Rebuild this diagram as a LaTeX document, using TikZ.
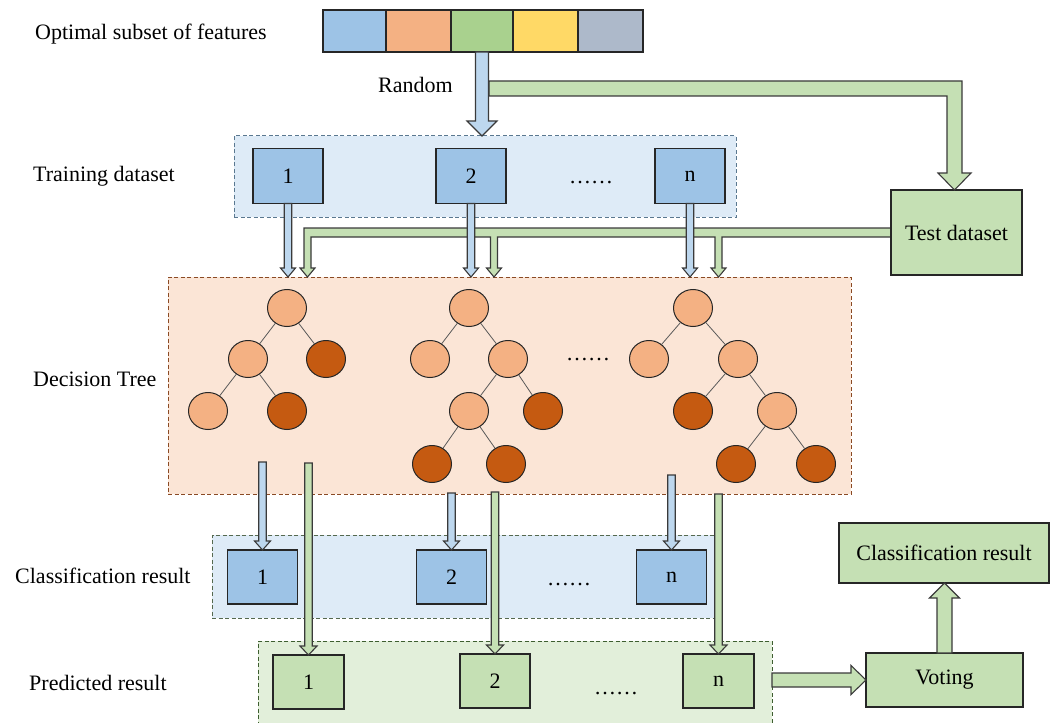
\documentclass[tikz,border=0pt]{standalone}
\usepackage{fontspec}
\setmainfont{Liberation Serif}
\usetikzlibrary{shapes.geometric,calc}
\definecolor{fblue}{HTML}{9DC3E6}
\definecolor{forange}{HTML}{F4B183}
\definecolor{fgreen}{HTML}{A9D18E}
\definecolor{fyellow}{HTML}{FFD966}
\definecolor{fgray}{HTML}{ADB9CA}
\definecolor{regblue}{HTML}{DEEBF7}
\definecolor{regorange}{HTML}{FBE5D6}
\definecolor{reggreen}{HTML}{E2EFDA}
\definecolor{boxgreen}{HTML}{C5E0B4}
\definecolor{arrblue}{HTML}{BDD7EE}
\definecolor{arrgreen}{HTML}{C5E0B4}
\definecolor{darkleaf}{HTML}{C55A11}
\definecolor{boxline}{HTML}{262626}
\definecolor{arrline}{HTML}{3A3A3A}
\definecolor{edgegray}{HTML}{595959}
\definecolor{bordblue}{HTML}{5A7890}
\definecolor{bordbrown}{HTML}{8B4A24}
\definecolor{bordcls}{HTML}{55694F}
\definecolor{bordgreen}{HTML}{3E5E30}
\newcommand\vblock[6]{\filldraw[#1] let \p1=(#2), \p2=(#3), \n1={sign(\y1-\y2)} in
  (\x1-#4/2,\y1) -- (\x1-#4/2,\y2+\n1*#6) -- (\x1-#5/2,\y2+\n1*#6) -- (\x1,\y2)
  -- (\x1+#5/2,\y2+\n1*#6) -- (\x1+#4/2,\y2+\n1*#6) -- (\x1+#4/2,\y1) -- cycle;}
\newcommand\hblock[6]{\filldraw[#1] let \p1=(#2), \p2=(#3) in
  (\x1,\y2-#4/2) -- (\x2-#6,\y2-#4/2) -- (\x2-#6,\y2-#5/2) -- (\x2,\y2)
  -- (\x2-#6,\y2+#5/2) -- (\x2-#6,\y2+#4/2) -- (\x1,\y2+#4/2) -- cycle;}
\begin{document}
\begin{tikzpicture}[x=1pt,y=-1pt,
  every node/.style={font=\fontsize{22}{26}\selectfont},
  lbl/.style={anchor=base west, inner sep=0},
  region/.style={dash pattern=on 4pt off 2.5pt, line width=1pt, inner sep=0, outer sep=0},
  sbox/.style={draw=boxline, line width=1.2pt, minimum width=70pt, minimum height=55pt, inner sep=0, outer sep=0},
  bluebox/.style={sbox, fill=fblue},
  greenbox/.style={sbox, fill=boxgreen},
  cell/.style={draw=boxline, line width=1.2pt, minimum height=42pt, inner sep=0, outer sep=0},
  leaf/.style={ellipse, draw=black!85, line width=1pt, minimum width=39pt, minimum height=37pt, inner sep=0},
  lt/.style={leaf, fill=forange},
  dk/.style={leaf, fill=darkleaf},
  edge/.style={draw=edgegray, line width=0.8pt},
  barrow/.style={draw=arrline, line width=1.1pt, fill=arrblue},
  garrow/.style={draw=arrline, line width=1.1pt, fill=arrgreen},
  dots/.style={anchor=base, inner sep=0}
]
\useasboundingbox (0,0) rectangle (1056,722);
\clip (0,0) rectangle (1056,722);

% regions
\node[region, draw=bordblue, fill=regblue, minimum width=502pt, minimum height=81pt] (trreg) at (485,176.5) {};
\node[region, draw=bordbrown, fill=regorange, minimum width=683pt, minimum height=217pt] (treereg) at (509.5,385.5) {};
\node[region, draw=bordcls, fill=regblue, minimum width=502pt, minimum height=83pt] (clsreg) at (463,576.5) {};
\node[region, draw=bordgreen, fill=reggreen, minimum width=514pt, minimum height=94pt] (predreg) at (515,688) {};

% labels
\node[lbl] (lopt) at (35,40) {Optimal subset of features};
\node[lbl] (lrand) at (378,93) {Random};
\node[lbl] (ltrain) at (33,181) {Training dataset};
\node[lbl] (ltree) at (33,386) {Decision Tree};
\node[lbl] (lcls) at (15,583) {Classification result};
\node[lbl] (lpred) at (29,690) {Predicted result};

% feature bar
\node[cell, fill=fblue, minimum width=63pt] (f1) at (354.5,31) {};
\node[cell, fill=forange, minimum width=65pt] (f2) at (418.5,31) {};
\node[cell, fill=fgreen, minimum width=62pt] (f3) at (482,31) {};
\node[cell, fill=fyellow, minimum width=65pt] (f4) at (545.5,31) {};
\node[cell, fill=fgray, minimum width=65pt] (f5) at (610.5,31) {};

% training boxes
\node[bluebox] (tr1) at (288,176) {1};
\node[bluebox] (tr2) at (471,176) {2};
\node[bluebox] (trn) at (690,176) {n};
\node[dots] (trdots) at (591,183) {……};

% test dataset
\node[greenbox, minimum width=131pt, minimum height=85pt] (test) at (956.5,232.5) {Test dataset};

% trees
\node[lt] (a0) at (287,308) {};
\node[lt] (a1) at (248,359) {};
\node[dk] (a2) at (326,359) {};
\node[lt] (a3) at (208,411) {};
\node[dk] (a4) at (287,411) {};
\draw[edge] (a0) -- (a1) (a0) -- (a2) (a1) -- (a3) (a1) -- (a4);

\node[lt] (b0) at (469,308) {};
\node[lt] (b1) at (430,359) {};
\node[lt] (b2) at (508,359) {};
\node[lt] (b3) at (469,411) {};
\node[dk] (b4) at (543,411) {};
\node[dk] (b5) at (432,464) {};
\node[dk] (b6) at (506,464) {};
\draw[edge] (b0) -- (b1) (b0) -- (b2) (b2) -- (b3) (b2) -- (b4) (b3) -- (b5) (b3) -- (b6);

\node[lt] (c0) at (693,308) {};
\node[lt] (c1) at (649,359) {};
\node[lt] (c2) at (738,359) {};
\node[dk] (c3) at (693,411) {};
\node[lt] (c4) at (777,411) {};
\node[dk] (c5) at (736,464) {};
\node[dk] (c6) at (816,464) {};
\draw[edge] (c0) -- (c1) (c0) -- (c2) (c2) -- (c3) (c2) -- (c4) (c4) -- (c5) (c4) -- (c6);
\node[dots] (treedots) at (588,360) {……};

% classification boxes
\node[bluebox, minimum height=54pt] (cl1) at (262.5,577) {1};
\node[bluebox, minimum height=54pt] (cl2) at (451.5,577) {2};
\node[bluebox, minimum height=54pt] (cln) at (671.5,577) {n};
\node[dots] (cldots) at (569,585) {……};

% predicted boxes
\node[greenbox, minimum width=71pt, minimum height=54pt] (pr1) at (308.5,682) {1};
\node[greenbox, minimum height=54pt] (pr2) at (495,681) {2};
\node[greenbox, minimum width=71pt, minimum height=54pt] (prn) at (718.5,681) {n};
\node[dots] (prdots) at (616,694) {……};

% voting and final result
\node[greenbox, minimum width=157pt, minimum height=54pt] (vote) at (944.5,680) {Voting};
\node[greenbox, minimum width=210pt, minimum height=60pt] (cres) at (944,553) {Classification result};

% Random -> test dataset (green)
\filldraw[garrow] (489,81) -- (962,81) -- (962,173) -- (971,173) -- (954.5,190)
  -- (938,173) -- (947,173) -- (947,96) -- (489,96) -- cycle;
% Random (blue)
\vblock{barrow}{f3.south}{f3.south |- trreg.north}{13pt}{30pt}{15pt}

% test dataset -> trees (green branch)
\filldraw[garrow] (891,228) -- (304,228) -- (304,268) -- (300,268) -- (307.5,277) -- (315,268)
  -- (311,268) -- (311,237) -- (490.5,237) -- (490.5,268) -- (486.5,268) -- (494,277)
  -- (501.5,268) -- (497.5,268) -- (497.5,237) -- (715,237) -- (715,268) -- (711,268)
  -- (718.5,277) -- (726,268) -- (722,268) -- (722,237) -- (891,237);
\draw[draw=boxline, line width=1.2pt] (test.north west) -- (test.south west);

% training -> trees (blue)
\vblock{barrow}{tr1.south}{tr1.south |- treereg.north}{7.5pt}{15pt}{9pt}
\vblock{barrow}{tr2.south}{tr2.south |- treereg.north}{7.5pt}{15pt}{9pt}
\vblock{barrow}{trn.south}{trn.south |- treereg.north}{7.5pt}{15pt}{9pt}

% trees -> classification (blue)
\vblock{barrow}{cl1.north |- 0,462}{cl1.north}{7.5pt}{16pt}{9pt}
\vblock{barrow}{cl2.north |- 0,493}{cl2.north}{7.5pt}{16pt}{9pt}
\vblock{barrow}{cln.north |- 0,475}{cln.north}{7.5pt}{16pt}{9pt}

% trees -> predicted (green)
\vblock{garrow}{pr1.north |- 0,463}{pr1.north}{7.5pt}{17pt}{9pt}
\vblock{garrow}{pr2.north |- 0,492}{pr2.north}{7.5pt}{17pt}{9pt}
\vblock{garrow}{prn.north |- 0,494}{prn.north}{7.5pt}{17pt}{9pt}

% predicted -> voting -> result
\hblock{garrow}{predreg.east}{vote.west}{14pt}{29pt}{15pt}
\vblock{garrow}{vote.north}{cres.south}{15pt}{30pt}{15pt}
\end{tikzpicture}
\end{document}
